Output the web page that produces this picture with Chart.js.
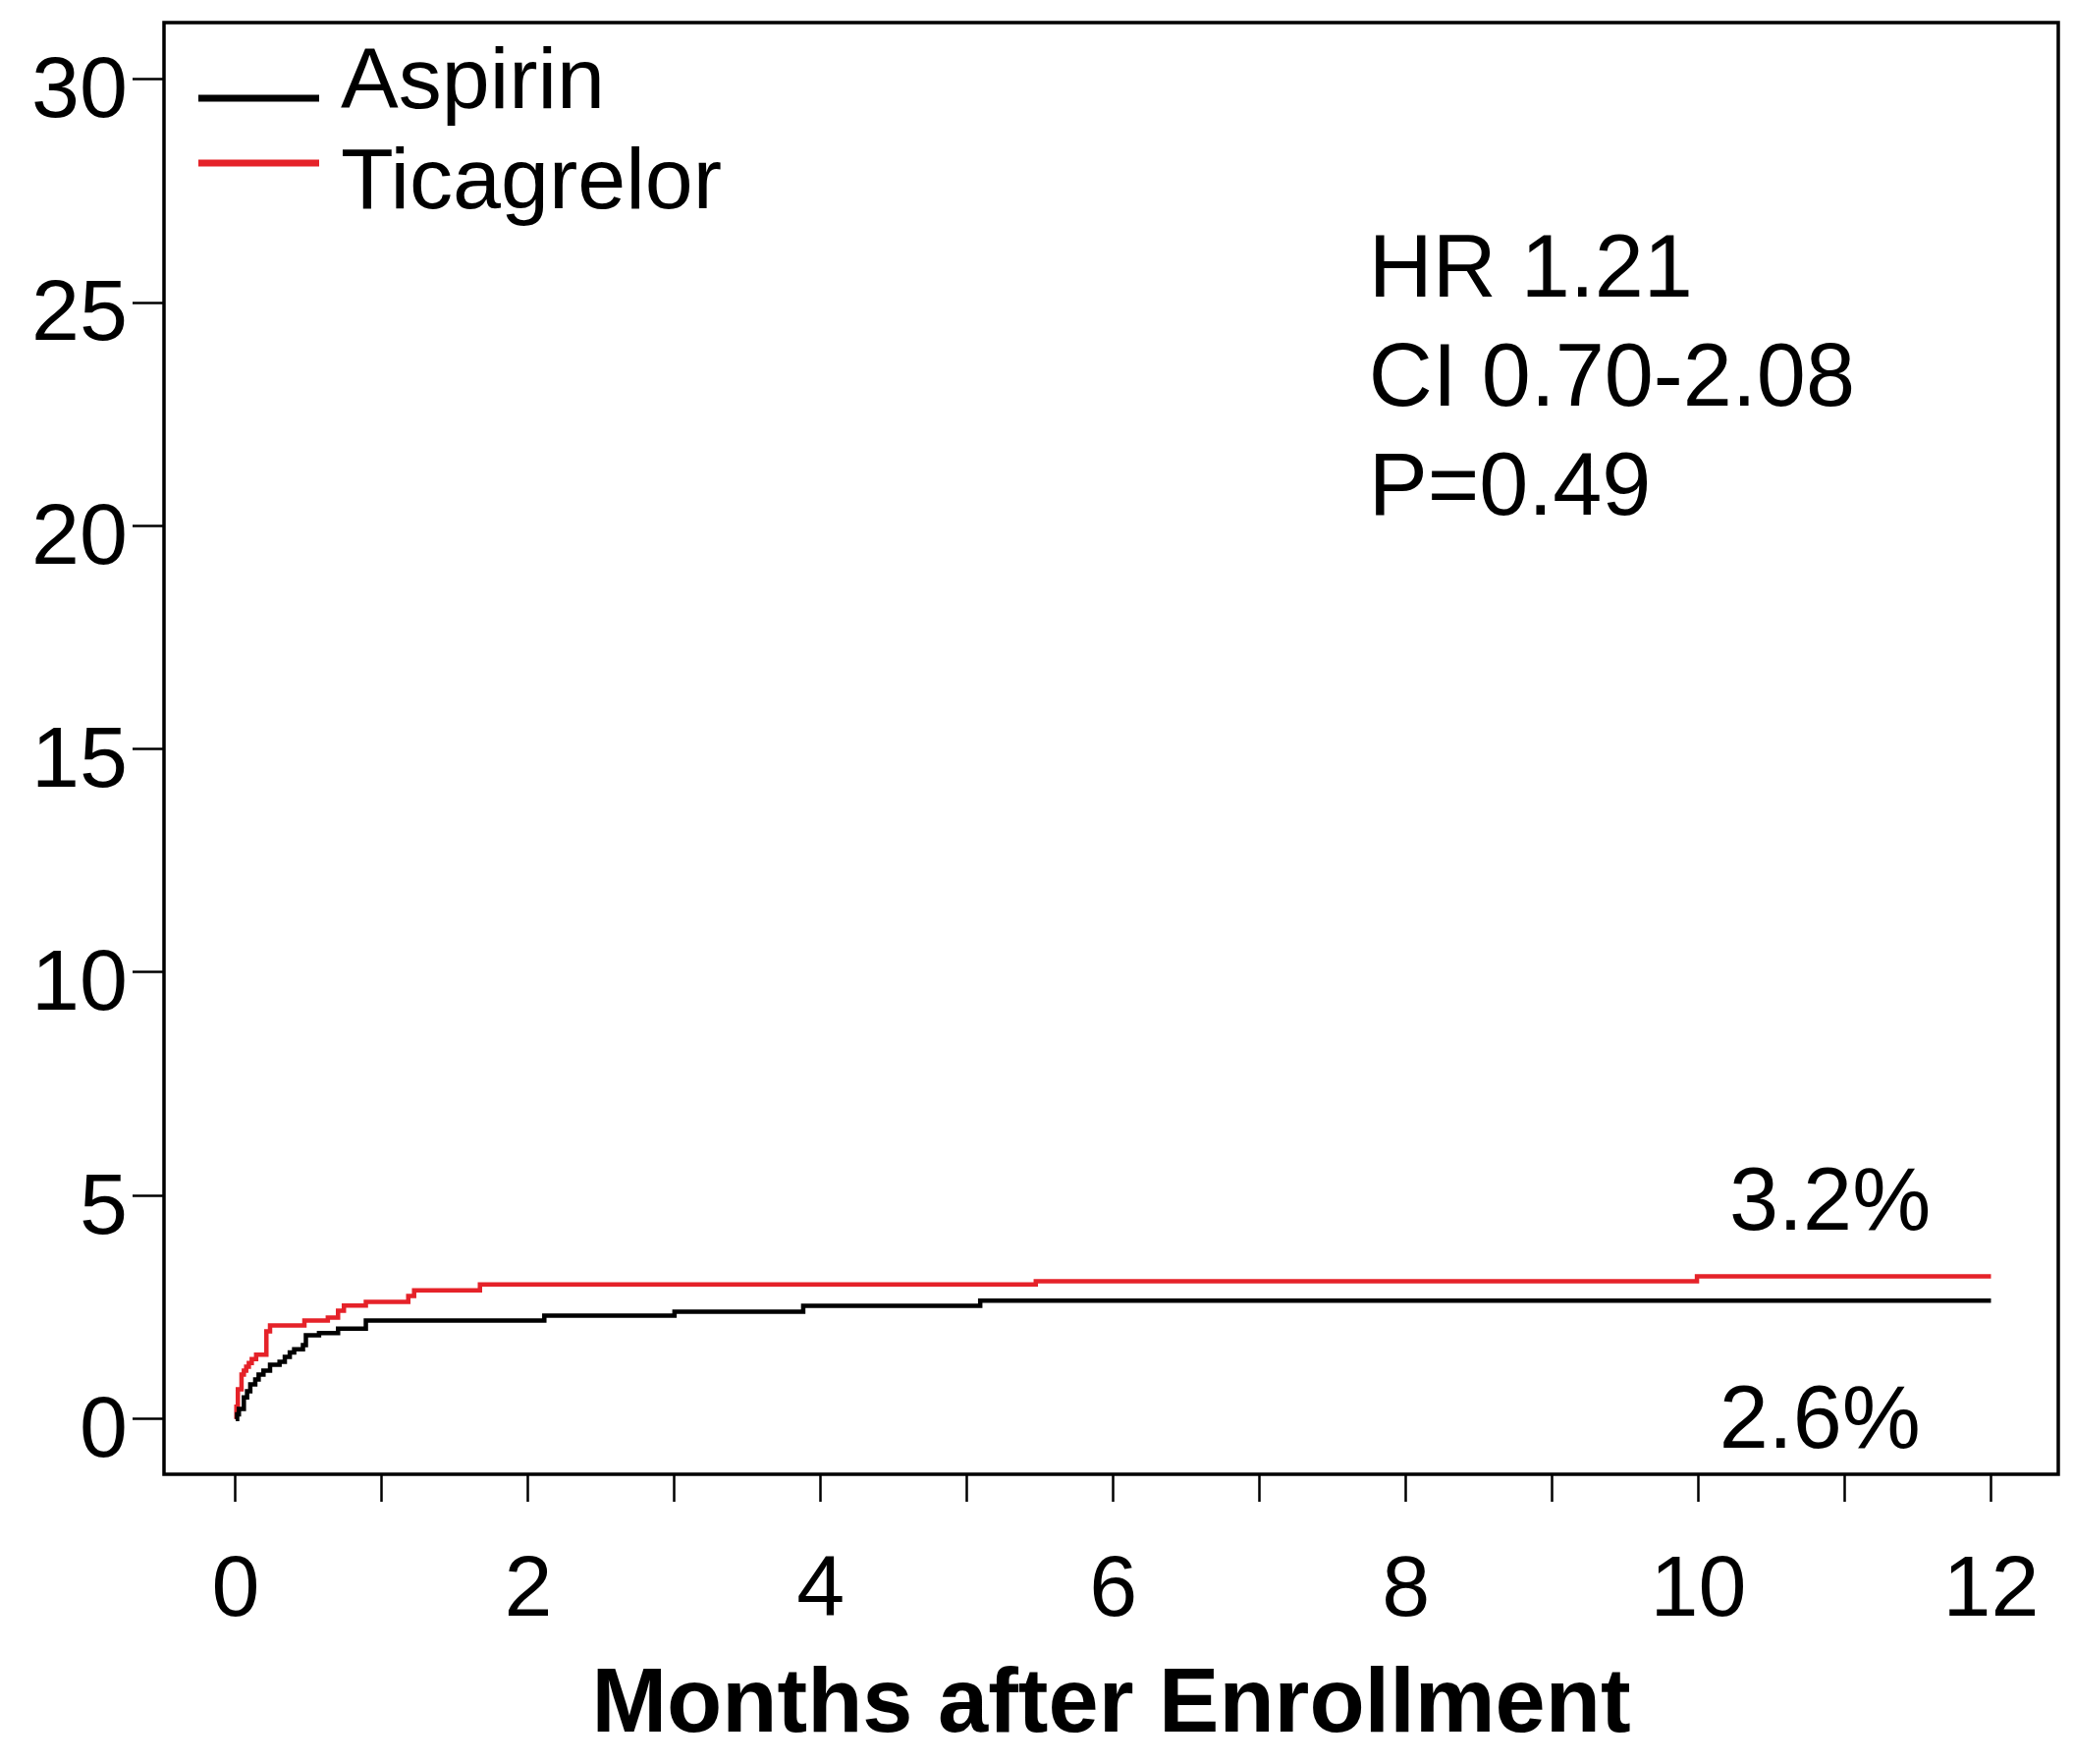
<!DOCTYPE html>
<html>
<head>
<meta charset="utf-8">
<title>Months after Enrollment</title>
<script src="https://cdn.jsdelivr.net/npm/chart.js@4.4.1/dist/chart.umd.min.js"></script>
<style>
    html, body { margin: 0; padding: 0; background: #fff; }
    canvas { display: block; }
</style>
</head>
<body>
<canvas id="kmChart" width="2111" height="1796"></canvas>
<script>
    // cumulative event rate (%), one value per step
    var aspirinMonths = [0, 0.01, 0.022, 0.056, 0.078, 0.10, 0.134, 0.157, 0.19, 0.235, 0.30, 0.336, 0.37, 0.40, 0.46, 0.48, 0.57, 0.70, 0.89, 2.11, 3.00, 3.88, 5.09, 12.0];
    var aspirinPct    = [0, 0.10, 0.22, 0.48, 0.62, 0.77, 0.88, 0.99, 1.08, 1.21, 1.28, 1.39, 1.49, 1.56, 1.65, 1.87, 1.92, 2.02, 2.20, 2.31, 2.40, 2.53, 2.65, 2.65];

    var ticagrelorMonths = [0, 0.005, 0.015, 0.04, 0.056, 0.072, 0.09, 0.11, 0.14, 0.21, 0.235, 0.47, 0.63, 0.70, 0.74, 0.89, 1.18, 1.22, 1.67, 5.47, 9.99, 12.0];
    var ticagrelorPct    = [0, 0.27, 0.66, 0.99, 1.08, 1.17, 1.25, 1.34, 1.44, 1.96, 2.09, 2.20, 2.27, 2.42, 2.54, 2.62, 2.75, 2.88, 3.01, 3.08, 3.19, 3.19];

    var xTicks = [0, 1, 2, 3, 4, 5, 6, 7, 8, 9, 10, 11, 12];
    var xLabelEvery = 2;
    var yTicks = [0, 5, 10, 15, 20, 25, 30];

    var statLines = ['HR 1.21', 'CI 0.70-2.08', 'P=0.49'];
    var endLabels = ['3.2%', '2.6%'];

    var FONT = "'Liberation Sans', Arial, Helvetica, sans-serif";
    var RED = '#e52229';

    function toPoints(months, pct) {
        return months.map(function (m, i) { return {x: m, y: pct[i]}; });
    }

    // box, legend and text annotations drawn on top of the chart
    var decorations = {
        id: 'decorations',
        afterDraw: function (chart) {
            var ctx = chart.ctx;
            var area = chart.chartArea;
            var xs = chart.scales.x, ys = chart.scales.y;

            ctx.save();
            ctx.strokeStyle = '#000';
            ctx.lineWidth = 3.5;
            ctx.strokeRect(area.left, area.top, area.right - area.left, area.bottom - area.top);

            // legend
            ctx.font = '88px ' + FONT;
            ctx.textBaseline = 'alphabetic';
            ctx.textAlign = 'left';
            chart.data.datasets.forEach(function (ds, i) {
                var lineY = 100 + i * 66;
                ctx.beginPath();
                ctx.lineWidth = 7;
                ctx.strokeStyle = ds.borderColor;
                ctx.moveTo(202, lineY);
                ctx.lineTo(325, lineY);
                ctx.stroke();
                ctx.fillStyle = '#000';
                ctx.fillText(ds.label, 347, 110 + i * 102);
            });

            // statistics block
            ctx.font = '90px ' + FONT;
            var statX = xs.getPixelForValue(7.745);
            var statY = [25.14, 22.70, 20.25];
            statLines.forEach(function (s, i) {
                ctx.fillText(s, statX, ys.getPixelForValue(statY[i]));
            });

            // end-of-follow-up rates
            ctx.textAlign = 'center';
            ctx.fillText(endLabels[0], xs.getPixelForValue(10.9), ys.getPixelForValue(4.24));
            ctx.fillText(endLabels[1], xs.getPixelForValue(10.83), ys.getPixelForValue(-0.64));
            ctx.restore();
        }
    };

    Chart.defaults.font.family = FONT;
    Chart.defaults.color = '#000';

    var chart = new Chart(document.getElementById('kmChart').getContext('2d'), {
        type: 'line',
        data: {
            datasets: [
                {
                    label: 'Aspirin',
                    data: toPoints(aspirinMonths, aspirinPct),
                    borderColor: '#000',
                    borderWidth: 4.5,
                    stepped: 'before',
                    pointRadius: 0,
                    fill: false
                },
                {
                    label: 'Ticagrelor',
                    data: toPoints(ticagrelorMonths, ticagrelorPct),
                    borderColor: RED,
                    borderWidth: 4.5,
                    stepped: 'before',
                    pointRadius: 0,
                    fill: false
                }
            ]
        },
        options: {
            responsive: false,
            animation: false,
            devicePixelRatio: 1,
            layout: {padding: {top: 23, right: 15, left: 0, bottom: 0}},
            plugins: {legend: {display: false}, tooltip: {enabled: false}},
            scales: {
                x: {
                    type: 'linear',
                    min: -0.49,
                    max: 12.46,
                    afterBuildTicks: function (scale) {
                        scale.ticks = xTicks.map(function (v) { return {value: v}; });
                    },
                    afterFit: function (scale) {
                        scale.height = 295;
                        scale.paddingLeft = 0;
                        scale.paddingRight = 0;
                    },
                    border: {display: false},
                    grid: {drawOnChartArea: false, drawTicks: true, tickLength: 28, tickWidth: 2.5, color: '#000'},
                    ticks: {
                        autoSkip: false,
                        maxRotation: 0,
                        padding: 48,
                        font: {size: 88, lineHeight: 1},
                        callback: function (value) { return value % xLabelEvery === 0 ? String(value) : ''; }
                    },
                    title: {
                        display: true,
                        text: 'Months after Enrollment',
                        font: {size: 92, weight: 'bold', lineHeight: 1},
                        padding: {top: 0, bottom: 12}
                    }
                },
                y: {
                    type: 'linear',
                    min: -1.24,
                    max: 31.27,
                    afterBuildTicks: function (scale) {
                        scale.ticks = yTicks.map(function (v) { return {value: v}; });
                    },
                    afterFit: function (scale) {
                        scale.width = 167;
                        scale.paddingTop = 0;
                        scale.paddingBottom = 0;
                    },
                    border: {display: false},
                    grid: {drawOnChartArea: false, drawTicks: true, tickLength: 32, tickWidth: 2.5, color: '#000'},
                    ticks: {
                        autoSkip: false,
                        padding: 5,
                        labelOffset: 14,
                        font: {size: 88, lineHeight: 1}
                    }
                }
            }
        },
        plugins: [decorations]
    });
</script>
</body>
</html>
